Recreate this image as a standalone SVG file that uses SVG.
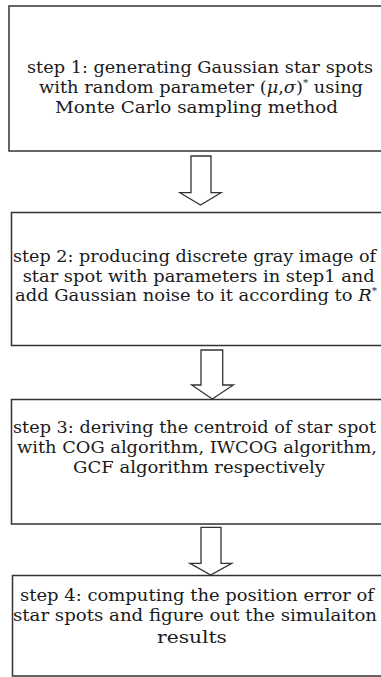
<svg xmlns="http://www.w3.org/2000/svg" width="381" height="677" viewBox="0 0 381 677">
<style>
.box{fill:#fff;stroke:#333;stroke-width:1.5}
.arr{fill:#fff;stroke:#333;stroke-width:1.3;stroke-linejoin:miter}
.t{font-family:"DejaVu Serif","Liberation Serif",serif;font-size:17px;fill:#1a1a1a}
.i{font-style:italic}
.sup{font-size:10px}
</style>
<rect width="381" height="677" fill="#fff"/>
<g id="step1">
<rect class="box" x="9" y="6" width="390" height="145"/>
<text class="t" x="27" y="73" textLength="346" lengthAdjust="spacingAndGlyphs">step 1: generating Gaussian star spots</text>
<text class="t" x="39" y="93" textLength="324" lengthAdjust="spacingAndGlyphs">with random parameter (<tspan class="i">μ</tspan>,<tspan class="i">σ</tspan>)<tspan class="sup" dy="-7">*</tspan><tspan dy="7"> using</tspan></text>
<text class="t" x="55" y="113" textLength="283" lengthAdjust="spacingAndGlyphs">Monte Carlo sampling method</text>
</g>
<g id="step2">
<rect class="box" x="11.5" y="212.5" width="390" height="133"/>
<text class="t" x="13" y="262" textLength="363" lengthAdjust="spacingAndGlyphs">step 2: producing discrete gray image of</text>
<text class="t" x="22.7" y="281.5" textLength="352" lengthAdjust="spacingAndGlyphs">star spot with parameters in step1 and</text>
<text class="t" x="15" y="301" textLength="362" lengthAdjust="spacingAndGlyphs">add Gaussian noise to it according to <tspan class="i">R</tspan><tspan class="sup" dy="-7">*</tspan></text>
</g>
<g id="step3">
<rect class="box" x="11.5" y="399.5" width="390" height="124.5"/>
<text class="t" x="13" y="433" textLength="363" lengthAdjust="spacingAndGlyphs">step 3: deriving the centroid of star spot</text>
<text class="t" x="17" y="453" textLength="360" lengthAdjust="spacingAndGlyphs">with COG algorithm, IWCOG algorithm,</text>
<text class="t" x="73" y="473" textLength="252" lengthAdjust="spacingAndGlyphs">GCF algorithm respectively</text>
</g>
<g id="step4">
<rect class="box" x="12.5" y="575.5" width="390" height="100.5"/>
<text class="t" x="20" y="601" textLength="354" lengthAdjust="spacingAndGlyphs">step 4: computing the position error of</text>
<text class="t" x="13" y="621" textLength="364" lengthAdjust="spacingAndGlyphs">star spots and figure out the simulaiton</text>
<text class="t" x="157" y="643" textLength="70" lengthAdjust="spacingAndGlyphs">results</text>
</g>
<g id="connectors">
<polygon class="arr" points="191,156 211,156 211,192.7 221,192.7 200.5,205 180,192.7 191,192.7"/>
<polygon class="arr" points="201,350 222.7,350 222.7,385 233.3,385 212.3,399 191.7,385 201,385"/>
<polygon class="arr" points="201,527.3 221,527.3 221,563.3 231.7,563.3 210.7,575 190,563.3 201,563.3"/>
</g>
</svg>
